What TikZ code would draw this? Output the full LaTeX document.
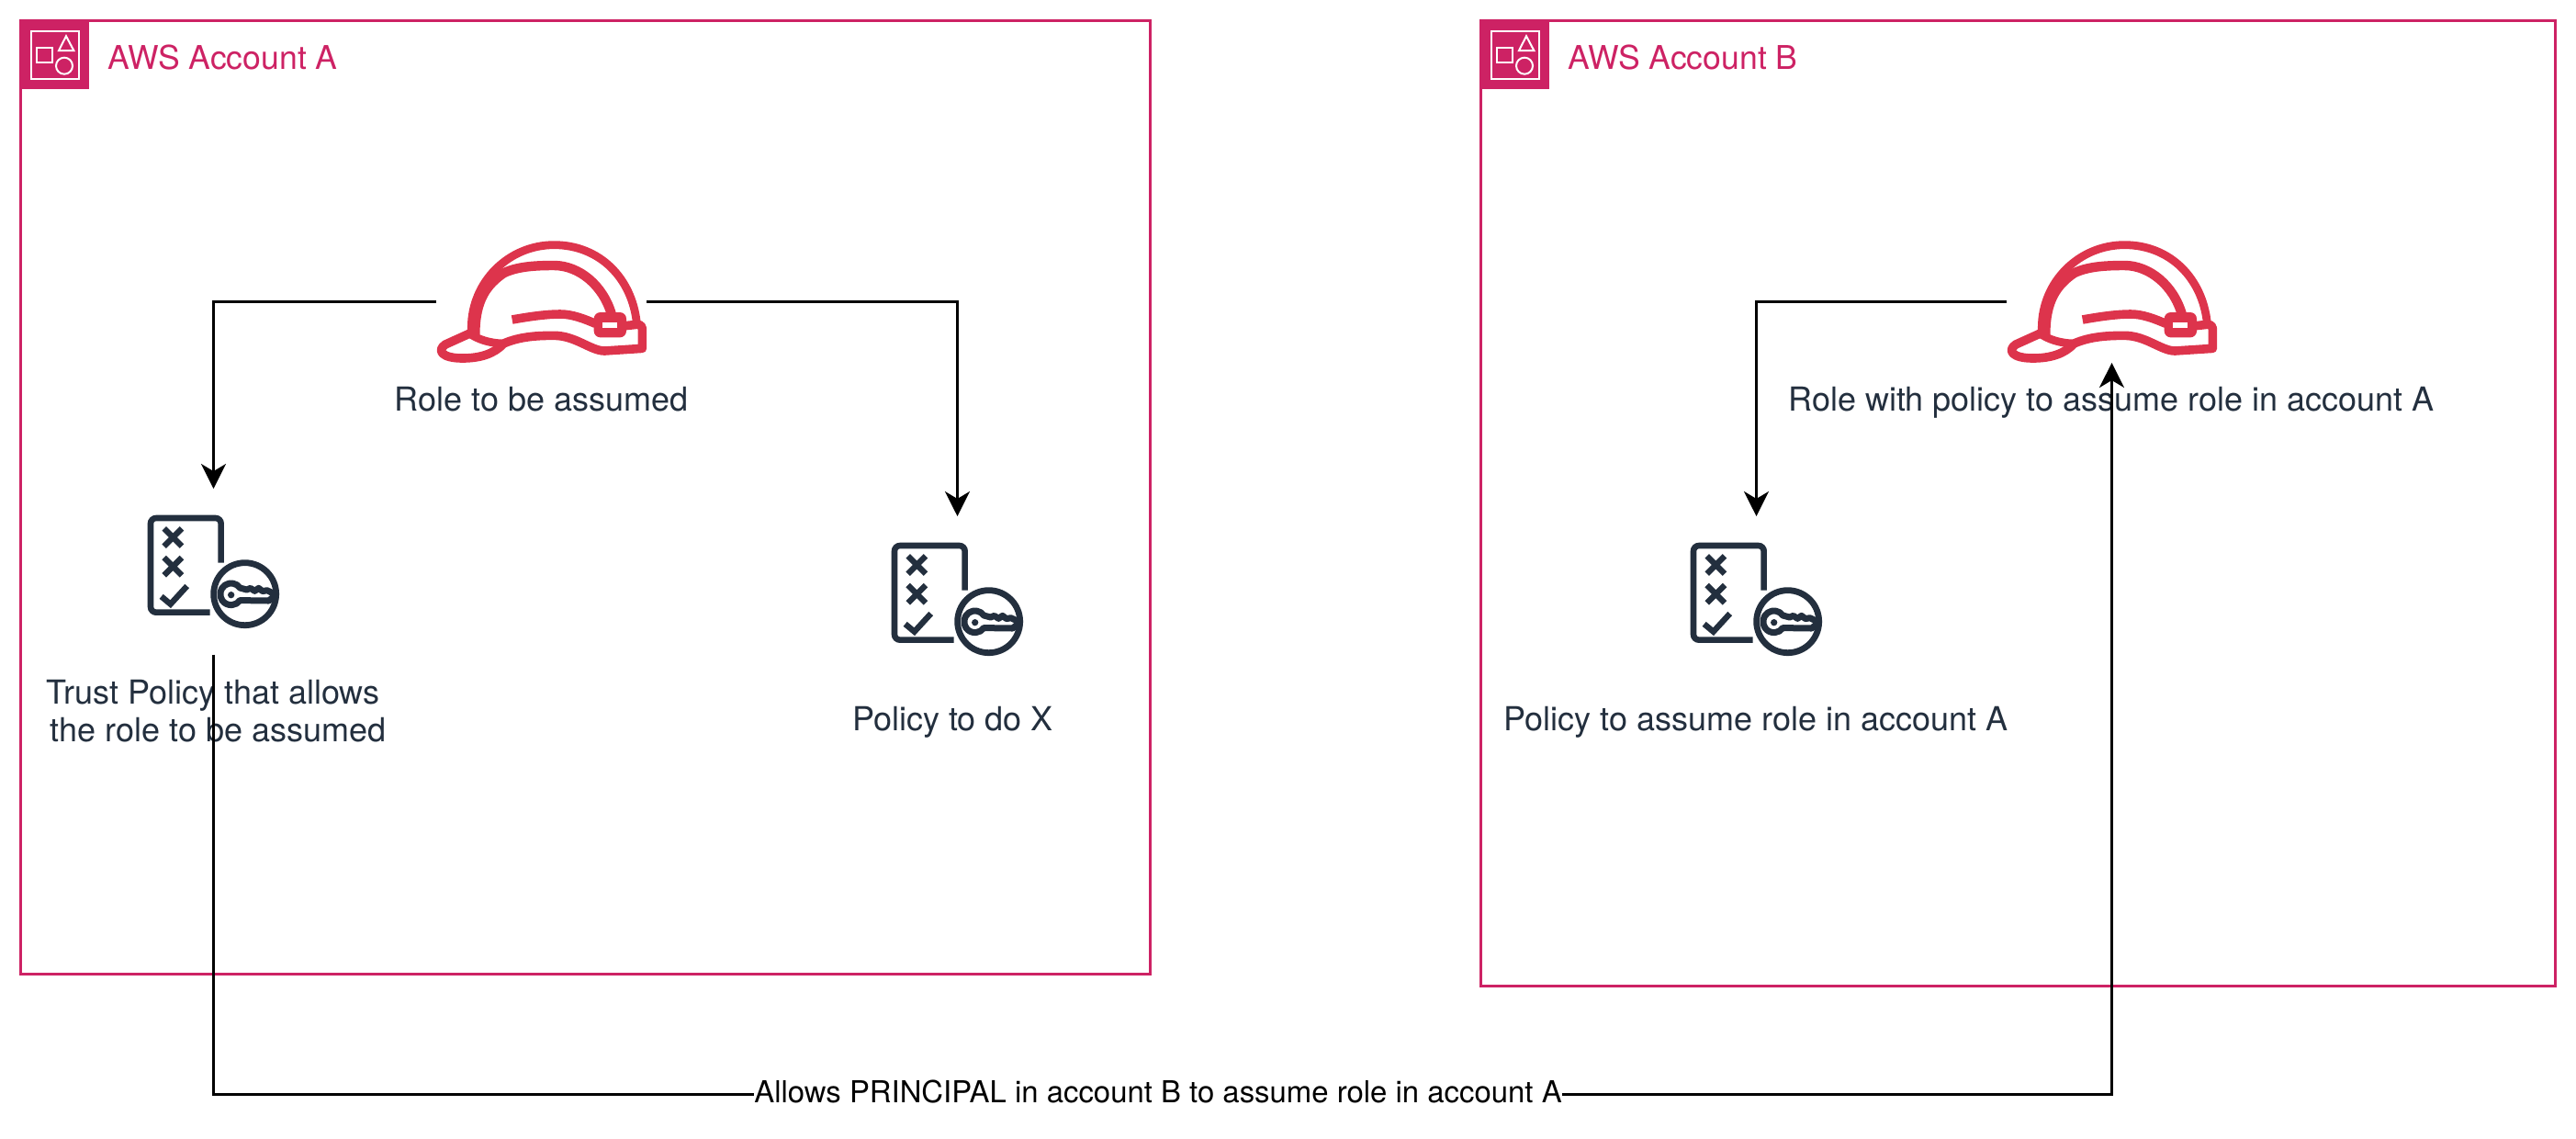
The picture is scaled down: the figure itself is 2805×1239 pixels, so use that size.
\documentclass[tikz,border=0pt]{standalone}
\usepackage{fontspec}
\setmainfont{TeX Gyre Heros}
\usetikzlibrary{arrows.meta}
\definecolor{awspink}{HTML}{CD2264}
\definecolor{helmetred}{HTML}{DD344C}
\definecolor{inkdark}{HTML}{232F3E}
\tikzset{
  x=0.5pt,y=-0.5pt,
  framebox/.style={draw=awspink,line width=1.5pt,inner sep=0pt,outer sep=0pt},
  grouptitle/.style={text=awspink,font=\fontsize{17.8pt}{20.5pt}\selectfont,anchor=base west,inner sep=0pt},
  caption/.style={text=inkdark,font=\fontsize{18pt}{20.5pt}\selectfont,anchor=base,inner sep=0pt,align=center},
  roleicon/.style={inner sep=0pt,outer sep=0pt,minimum width=114.65pt,minimum height=66.7pt},
  policyicon/.style={inner sep=0pt,outer sep=0pt,minimum width=72.5pt,minimum height=90.35pt},
  conn/.style={draw=black,line width=1.5pt,-{Stealth[length=13.5pt,width=13.5pt,inset=4pt]}},
  plainconn/.style={draw=black,line width=1.5pt},
  linklabel/.style={text=black,font=\fontsize{16.45pt}{19pt}\selectfont,inner sep=0pt,outer sep=0pt,text height=12pt,text depth=3.7pt},
  groupicon/.pic={
    \begin{scope}[x=0.16667pt,y=-0.16667pt]
      \fill[awspink] (63,63) rectangle (292,292);
      \draw[white,line width=1pt] (102,102) rectangle (258,258);
      \draw[white,line width=1pt] (120,155) rectangle (172,205);
      \draw[white,line width=1pt,line join=miter] (192,165) -- (216,118) -- (241,165) -- cycle;
      \draw[white,line width=1pt] (210,215) circle [radius=27];
    \end{scope}
  },
  helmetshape/.pic={
    \begin{scope}[x=0.16667pt,y=-0.16667pt,draw=helmetred,line join=round]
      \draw[line width=4.4pt] (220,372) -- (220,350) .. controls (220,201) and (341,80) .. (490,80) .. controls (640,80) and (745,190) .. (760,335);
      \draw[line width=5.2pt] (232,372) .. controls (232,260) and (270,210) .. (325,172) .. controls (370,150) and (430,147) .. (490,147) .. controls (570,147) and (650,210) .. (678,308);
      \draw[line width=4.8pt] (353,324) .. controls (420,312) and (470,306) .. (510,306) .. controls (550,306) and (590,322) .. (625,337);
      \fill[helmetred,rounded corners=3.5pt] (620,300) rectangle (726,382);
      \fill[white] (648,332) rectangle (697,352);
      \draw[line width=4.4pt] (212,368) .. controls (240,388) and (280,402) .. (330,402);
      \draw[line width=4.8pt] (230,362) -- (135,405) .. controls (105,425) and (125,450) .. (190,450) .. controls (250,450) and (295,435) .. (325,402) .. controls (380,378) and (440,376) .. (490,376) .. controls (560,376) and (610,426) .. (655,426) -- (778,418) [rounded corners=2.5pt] -- (778,338) -- (722,344);
    \end{scope}
  },
  policyshape/.pic={
    \begin{scope}[x=0.16667pt,y=-0.16667pt,draw=inkdark]
      \draw[line width=3.3pt,rounded corners=3pt] (332,218) -- (332,72) -- (102,72) -- (102,380) -- (296,380);
      \draw[line width=3.2pt] (146,106) -- (204,164) (204,106) -- (146,164);
      \draw[line width=3.2pt] (146,201) -- (204,259) (204,201) -- (146,259);
      \draw[line width=3.2pt,line join=miter] (137,328) -- (167,353) -- (221,294);
      \draw[line width=3.4pt] (410,320) circle [radius=102];
      \draw[line width=3.5pt,line join=round] (394,300) arc [start angle=-35,end angle=-325,radius=35.5] -- (488,342) -- (512,322) -- (482,308) -- (468,311) -- (455,301) -- (442,310) -- (428,301) -- (416,306) -- cycle;
      \fill[inkdark] (365,323) circle [radius=11];
    \end{scope}
  }
}
\begin{document}
\begin{tikzpicture}
\useasboundingbox (0,0) rectangle (2805,1239);
% frames
\node[framebox,minimum width=615pt,minimum height=519.1pt] (frameA) at (637.5,541.5) {};
\node[framebox,minimum width=585pt,minimum height=525.5pt] (frameB) at (2197.5,547.5) {};
\pic at (0,0) {groupicon};
\pic at (1590,0) {groupicon};
\node[grouptitle] (titleA) at (117,75) {AWS Account A};
\node[grouptitle] (titleB) at (1707,75) {AWS Account B};
% icons
\node[roleicon] (roleA) at (589.5,328.3) {};
\node[roleicon] (roleB) at (2299.5,328.3) {};
\node[policyicon] (trustA) at (232.5,622.35) {};
\node[policyicon] (policyX) at (1042.5,652.35) {};
\node[policyicon] (policyB) at (1912.5,652.35) {};
\pic at (440,240) {helmetshape};
\pic at (2150,240) {helmetshape};
\pic at (130,540) {policyshape};
\pic at (940,570) {policyshape};
\pic at (1810,570) {policyshape};
% captions
\node[caption] (capRoleA) at (589.5,447) {Role to be assumed};
\node[caption] (capRoleB) at (2299,447) {Role with policy to assume role in account A};
\node[caption,anchor=center] (capTrust) at (237.5,774.5) {Trust Policy that allows\hspace*{5.5pt}\\the role to be assumed};
\node[caption] (capX) at (1037.5,795) {Policy to do X};
\node[caption] (capB) at (1912,795) {Policy to assume role in account A};
% connectors
\node[linklabel] (lbl) at (1261,1191.7) {Allows PRINCIPAL in account B to assume role in account A};
\draw[conn] (roleA.west) -| (trustA.north);
\draw[conn] (roleA.east) -| (policyX.north);
\draw[conn] (roleB.west) -| (policyB.north);
\draw[plainconn] (trustA.south) |- (lbl.west);
\draw[conn] (lbl.east) -| (roleB.south);
\end{tikzpicture}
\end{document}
